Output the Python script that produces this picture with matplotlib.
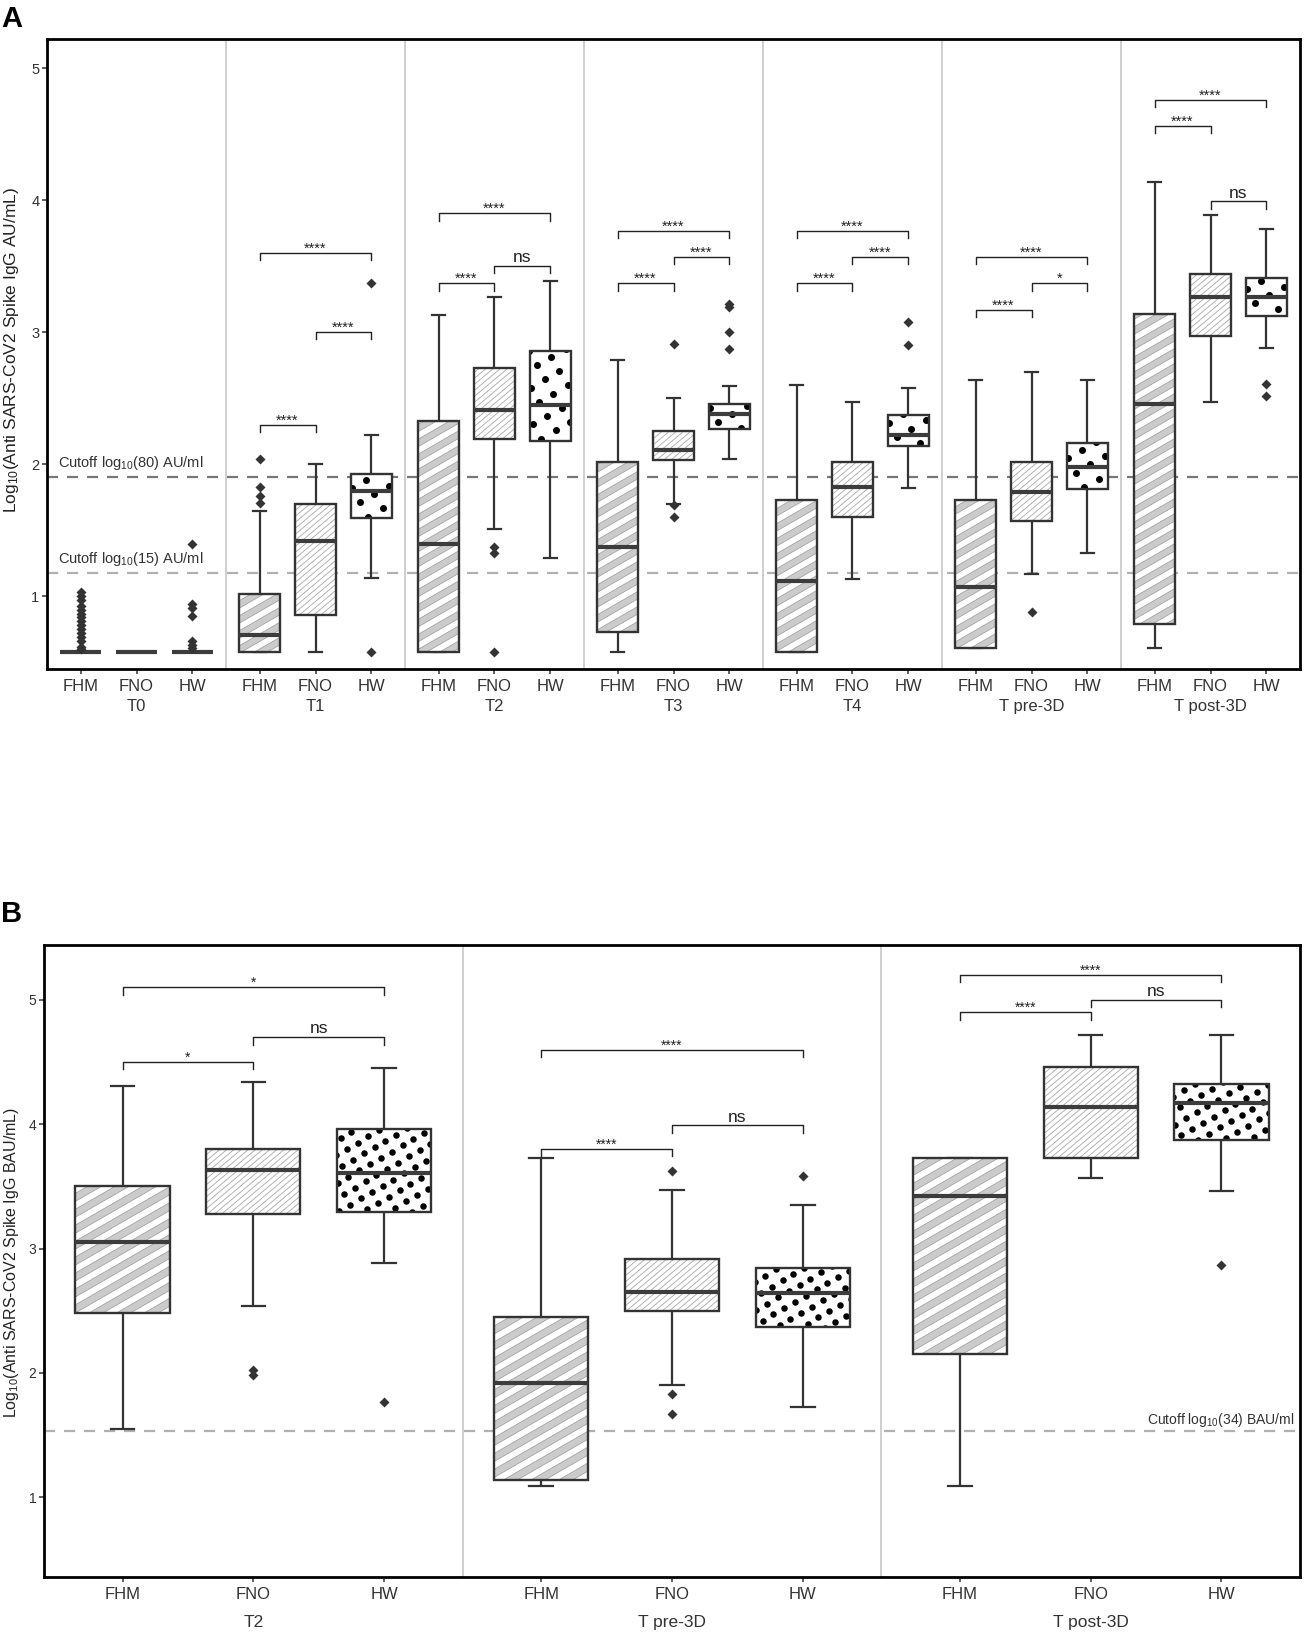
import numpy as np
import matplotlib
matplotlib.use("Agg")
import matplotlib.pyplot as plt
from matplotlib.patches import Rectangle
from matplotlib.collections import LineCollection, PolyCollection

plt.rcParams['font.family'] = ['Liberation Sans', 'DejaVu Sans']
plt.rcParams['mathtext.fontset'] = 'custom'
plt.rcParams['mathtext.rm'] = 'Liberation Sans'
plt.rcParams['mathtext.it'] = 'Liberation Sans'

# ---------------- data ----------------
categories = ['FHM', 'FNO', 'HW']

groups_a = ['T0', 'T1', 'T2', 'T3', 'T4', 'T pre-3D', 'T post-3D']
# rows = groups, cols = FHM, FNO, HW
a_low = np.array([[0.58, 0.58, 0.58],
                  [0.58, 0.58, 1.14],
                  [0.58, 1.51, 1.29],
                  [0.58, 1.70, 2.04],
                  [0.58, 1.13, 1.82],
                  [0.61, 1.17, 1.33],
                  [0.61, 2.47, 2.88]])
a_q1 = np.array([[0.58, 0.58, 0.58],
                 [0.58, 0.86, 1.59],
                 [0.58, 2.19, 2.18],
                 [0.73, 2.03, 2.27],
                 [0.58, 1.60, 2.14],
                 [0.61, 1.57, 1.81],
                 [0.79, 2.97, 3.12]])
a_med = np.array([[0.58, 0.58, 0.58],
                  [0.71, 1.42, 1.80],
                  [1.40, 2.41, 2.45],
                  [1.37, 2.11, 2.38],
                  [1.12, 1.83, 2.22],
                  [1.07, 1.79, 1.98],
                  [2.46, 3.27, 3.27]])
a_q3 = np.array([[0.58, 0.58, 0.58],
                 [1.02, 1.70, 1.93],
                 [2.33, 2.73, 2.86],
                 [2.02, 2.25, 2.46],
                 [1.73, 2.02, 2.37],
                 [1.73, 2.02, 2.16],
                 [3.14, 3.44, 3.41]])
a_high = np.array([[0.58, 0.58, 0.58],
                   [1.65, 2.00, 2.22],
                   [3.13, 3.27, 3.39],
                   [2.79, 2.50, 2.59],
                   [2.60, 2.47, 2.58],
                   [2.64, 2.70, 2.64],
                   [4.14, 3.89, 3.78]])
a_outliers = [
    [[0.60, 0.62, 0.66, 0.69, 0.72, 0.75, 0.78, 0.81, 0.84, 0.87, 0.90, 0.93, 0.97, 1.00, 1.03],
     [],
     [0.61, 0.63, 0.66, 0.85, 0.91, 0.94, 1.40]],
    [[1.71, 1.76, 1.83, 2.04], [], [0.58, 3.37]],
    [[], [0.58, 1.33, 1.37], []],
    [[], [1.60, 1.69, 2.91], [2.87, 3.00, 3.19, 3.21]],
    [[], [], [2.90, 3.08]],
    [[], [0.88], []],
    [[], [], [2.52, 2.61]],
]
# (group, cat_i, cat_j, y, label)
a_brackets = [
    (1, 0, 1, 2.30, '****'), (1, 1, 2, 3.00, '****'), (1, 0, 2, 3.60, '****'),
    (2, 0, 1, 3.37, '****'), (2, 1, 2, 3.50, 'ns'), (2, 0, 2, 3.90, '****'),
    (3, 0, 1, 3.37, '****'), (3, 1, 2, 3.57, '****'), (3, 0, 2, 3.77, '****'),
    (4, 0, 1, 3.37, '****'), (4, 1, 2, 3.57, '****'), (4, 0, 2, 3.77, '****'),
    (5, 0, 1, 3.17, '****'), (5, 1, 2, 3.37, '*'), (5, 0, 2, 3.57, '****'),
    (6, 0, 1, 4.56, '****'), (6, 1, 2, 3.99, 'ns'), (6, 0, 2, 4.76, '****'),
]
a_cutoffs = [1.903, 1.176]
a_cutoff_labels = [r'Cutoff log$_{10}$(80) AU/ml', r'Cutoff log$_{10}$(15) AU/ml']

groups_b = ['T2', 'T pre-3D', 'T post-3D']
b_low = np.array([[1.55, 2.54, 2.88],
                  [1.09, 1.90, 1.73],
                  [1.09, 3.57, 3.46]])
b_q1 = np.array([[2.48, 3.28, 3.29],
                 [1.14, 2.50, 2.37],
                 [2.15, 3.73, 3.87]])
b_med = np.array([[3.05, 3.63, 3.61],
                  [1.92, 2.65, 2.64],
                  [3.42, 4.14, 4.17]])
b_q3 = np.array([[3.50, 3.80, 3.96],
                 [2.45, 2.92, 2.84],
                 [3.73, 4.46, 4.32]])
b_high = np.array([[4.31, 4.34, 4.45],
                   [3.73, 3.47, 3.35],
                   [3.73, 4.72, 4.72]])
b_outliers = [
    [[], [1.98, 2.02], [1.77]],
    [[], [1.67, 1.83, 3.62], [3.58]],
    [[], [], [2.87]],
]
b_brackets = [
    (0, 0, 1, 4.50, '*'), (0, 1, 2, 4.70, 'ns'), (0, 0, 2, 5.10, '*'),
    (1, 0, 1, 3.80, '****'), (1, 1, 2, 3.99, 'ns'), (1, 0, 2, 4.60, '****'),
    (2, 0, 1, 4.90, '****'), (2, 1, 2, 5.00, 'ns'), (2, 0, 2, 5.20, '****'),
]
b_cutoff = 1.531
b_cutoff_label = r'Cutoff log$_{10}$(34) BAU/ml'

# ---------------- drawing helpers ----------------
W = 3.2                      # width of one facet in data units
E = (W - 2.0) / 2.0          # expansion on each side
DARK = '#333333'


def stripes(ax, rect, x0, x1, y0, y1, angle, period, thick, face, edge, lwe, z):
    P0 = ax.transData.transform((x0, y0))
    P1 = ax.transData.transform((x1, y1))
    c0 = (P0 + P1) / 2.0
    diag = np.hypot(*(P1 - P0)) + 5
    a = np.radians(angle)
    d = np.array([np.cos(a), np.sin(a)])
    n = np.array([-np.sin(a), np.cos(a)])
    K = int(diag / period) + 2
    inv = ax.transData.inverted()
    polys = []
    for k in range(-K, K + 1):
        c = c0 + k * period * n
        if thick > 0:
            corners = [c - diag * d - thick / 2 * n, c + diag * d - thick / 2 * n,
                       c + diag * d + thick / 2 * n, c - diag * d + thick / 2 * n]
        else:
            corners = [c - diag * d, c + diag * d]
        polys.append(inv.transform(np.array(corners)))
    if thick > 0:
        col = PolyCollection(polys, facecolors=face, edgecolors=edge, linewidths=lwe, zorder=z)
    else:
        col = LineCollection(polys, colors=edge, linewidths=lwe, zorder=z)
    ax.add_collection(col, autolim=False)
    col.set_clip_path(rect)


def dots(ax, rect, x0, x1, y0, y1, angle, spacing, dia, z):
    P0 = ax.transData.transform((x0, y0))
    P1 = ax.transData.transform((x1, y1))
    c0 = (P0 + P1) / 2.0 + np.array([3.0, 2.0])
    diag = np.hypot(*(P1 - P0))
    a = np.radians(angle)
    d = np.array([np.cos(a), np.sin(a)])
    n = np.array([-np.sin(a), np.cos(a)])
    K = int(diag / spacing) + 2
    pts = []
    for i in range(-K, K + 1):
        for j in range(-K, K + 1):
            pts.append(c0 + spacing * (i * d + j * n))
    pts = ax.transData.inverted().transform(np.array(pts))
    s_pt = dia * 72.0 / 100.0
    sc = ax.scatter(pts[:, 0], pts[:, 1], s=s_pt ** 2, c='black', marker='o',
                    linewidths=0, zorder=z)
    sc.set_clip_path(rect)


def draw_panel(ax, groups, low, q1, med, q3, high, outl, brackets, pat,
               box_w, cap_w, tick_h, star_fs, ns_fs):
    ng = len(groups)
    for g in range(ng):
        for c in range(3):
            x = g * W + E + c
            x0, x1 = x - box_w / 2, x + box_w / 2
            # whiskers
            ax.plot([x, x], [low[g, c], q1[g, c]], color=DARK, lw=1.6, zorder=2,
                    solid_capstyle='butt')
            ax.plot([x, x], [q3[g, c], high[g, c]], color=DARK, lw=1.6, zorder=2,
                    solid_capstyle='butt')
            ax.plot([x - cap_w / 2, x + cap_w / 2], [low[g, c]] * 2, color=DARK, lw=1.6, zorder=2)
            ax.plot([x - cap_w / 2, x + cap_w / 2], [high[g, c]] * 2, color=DARK, lw=1.6, zorder=2)
            h = q3[g, c] - q1[g, c]
            rect = Rectangle((x0, q1[g, c]), box_w, h, facecolor='white',
                             edgecolor='none', zorder=2.5)
            ax.add_patch(rect)
            if h > 0:
                if c == 0:
                    stripes(ax, rect, x0, x1, q1[g, c], q3[g, c], 30, pat['fhm_period'],
                            pat['fhm_thick'], '#cbcbcb', '#9a9a9a', 0.5, 3)
                elif c == 1:
                    stripes(ax, rect, x0, x1, q1[g, c], q3[g, c], 40, pat['fno_period'],
                            0, None, '#a8a8a8', 0.6, 3)
                else:
                    dots(ax, rect, x0, x1, q1[g, c], q3[g, c], 30, pat['hw_spacing'],
                         pat['hw_dia'], 3)
            ax.add_patch(Rectangle((x0, q1[g, c]), box_w, h, facecolor='none',
                                   edgecolor=DARK, lw=1.7, zorder=4))
            ax.plot([x0, x1], [med[g, c]] * 2, color='#3c3c3c', lw=3.0, zorder=5,
                    solid_capstyle='butt')
            o = outl[g][c]
            if len(o):
                ax.plot([x] * len(o), o, linestyle='none', marker='D', ms=4.8,
                        color=DARK, mec='none', zorder=6)
    for (g, i, j, y, lab) in brackets:
        xi = g * W + E + i
        xj = g * W + E + j
        ax.plot([xi, xi, xj, xj], [y - tick_h, y, y, y - tick_h], color='#222222',
                lw=1.0, zorder=6)
        fs = ns_fs if lab == 'ns' else star_fs
        off = 0.5 if lab == 'ns' else -2.0
        ax.annotate(lab, xy=((xi + xj) / 2, y), xytext=(0, off),
                    textcoords='offset points', ha='center', va='bottom',
                    fontsize=fs, color='#222222', zorder=6)
    # facet separators
    for g in range(1, ng):
        ax.axvline(g * W, color='#cccccc', lw=1.3, zorder=1)
    ax.set_xlim(0, ng * W)
    xt = [g * W + E + c for g in range(ng) for c in range(3)]
    ax.set_xticks(xt)
    ax.set_xticklabels(categories * ng)
    for s in ax.spines.values():
        s.set_linewidth(2.0)
        s.set_color('black')
    ax.set_yticks([1, 2, 3, 4, 5])
    ax.tick_params(axis='both', length=3.5, width=1.1, color=DARK, labelcolor=DARK)


# ---------------- figure ----------------
FW, FH = 1305, 1638
fig = plt.figure(figsize=(FW / 100, FH / 100), dpi=100)

axA = fig.add_axes([47 / FW, 1 - 669 / FH, (1300 - 47) / FW, (669 - 39) / FH])
axA.set_xlim(0, len(groups_a) * W)
axA.set_ylim(0.45, 5.22)
axB = fig.add_axes([44 / FW, 1 - 1577 / FH, (1300 - 44) / FW, (1577 - 945) / FH])
axB.set_xlim(0, len(groups_b) * W)
axB.set_ylim(0.36, 5.44)

pat_a = dict(fhm_period=13.0, fhm_thick=6.5, fno_period=4.6, hw_spacing=16.5, hw_dia=7.0)
pat_b = dict(fhm_period=13.8, fhm_thick=7.0, fno_period=4.6, hw_spacing=12.5, hw_dia=6.5)

# cutoff lines (below boxes)
axA.axhline(a_cutoffs[0], color='#777777', lw=1.6, ls=(0, (5, 4)), zorder=1.5)
axA.axhline(a_cutoffs[1], color='#b0b0b0', lw=1.6, ls=(0, (5, 4)), zorder=1.5)
axB.axhline(b_cutoff, color='#b0b0b0', lw=1.6, ls=(0, (5, 4)), zorder=1.5)

draw_panel(axA, groups_a, a_low, a_q1, a_med, a_q3, a_high, a_outliers, a_brackets,
           pat_a, box_w=0.72, cap_w=0.22, tick_h=0.055, star_fs=10.5, ns_fs=12.5)
draw_panel(axB, groups_b, b_low, b_q1, b_med, b_q3, b_high, b_outliers, b_brackets,
           pat_b, box_w=0.72, cap_w=0.18, tick_h=0.06, star_fs=10, ns_fs=12.5)

axA.tick_params(axis='x', labelsize=12, pad=4)
axA.tick_params(axis='y', labelsize=10.5, pad=2)
axB.tick_params(axis='x', labelsize=12, pad=4)
axB.tick_params(axis='y', labelsize=10, pad=2)

# cutoff labels
for yv, lab in zip(a_cutoffs, a_cutoff_labels):
    axA.annotate(lab, xy=(11 / 1253, yv), xycoords=('axes fraction', 'data'),
                 xytext=(0, 4), textcoords='offset points', ha='left', va='bottom',
                 fontsize=10.5, color=DARK)
axB.annotate(b_cutoff_label, xy=(0.9955, b_cutoff), xycoords=('axes fraction', 'data'),
             xytext=(0, 2), textcoords='offset points', ha='right', va='bottom',
             fontsize=10, color=DARK)

# group labels (second line of x axis)
for g, name in enumerate(groups_a):
    axA.annotate(name, xy=(g * W + W / 2, 0), xycoords=('data', 'axes fraction'),
                 xytext=(0, -27), textcoords='offset points', ha='center', va='center',
                 fontsize=12, color=DARK)
for g, name in enumerate(groups_b):
    axB.annotate(name, xy=(g * W + W / 2, 0), xycoords=('data', 'axes fraction'),
                 xytext=(0, -33), textcoords='offset points', ha='center', va='center',
                 fontsize=12.5, color=DARK)

# y labels
fig.text(12 / FW, 1 - 350 / FH, r'Log$_{10}$(Anti SARS-CoV2 Spike IgG AU/mL)',
         rotation=90, ha='center', va='center', fontsize=12.5, color='#222222')
fig.text(12 / FW, 1 - 1262 / FH, r'Log$_{10}$(Anti SARS-CoV2 Spike IgG BAU/mL)',
         rotation=90, ha='center', va='center', fontsize=11.5, color='#222222')

# panel letters
fig.text(1 / FW, 1 - 27 / FH, 'A', fontsize=21, fontweight='bold', ha='left', va='baseline')
fig.text(1 / FW, 1 - 922 / FH, 'B', fontsize=21, fontweight='bold', ha='left', va='baseline')

fig.savefig('out.png', dpi=100, facecolor='white')
